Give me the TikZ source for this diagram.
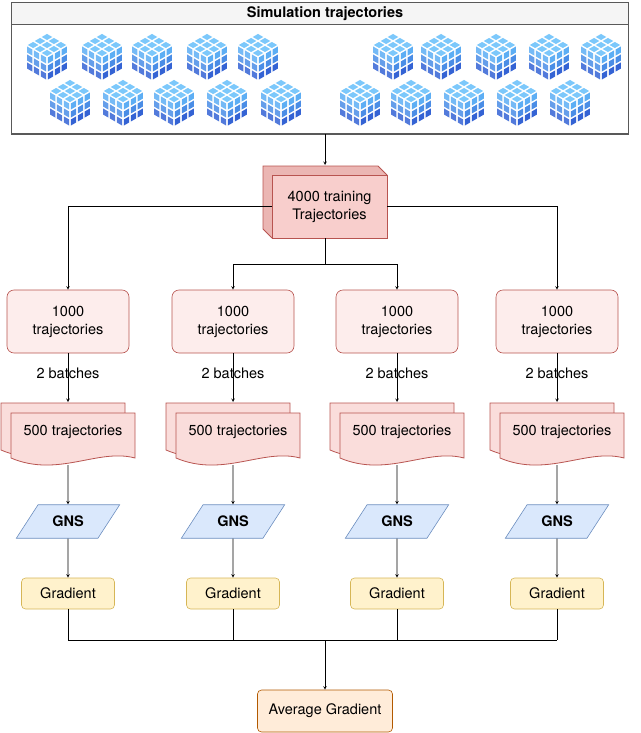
\documentclass[tikz,border=0pt]{standalone}
\usepackage{fontspec}
\setmainfont{TeX Gyre Heros}
\usetikzlibrary{shapes.geometric}
\definecolor{redfill}{HTML}{F8CECC}
\definecolor{redline}{HTML}{B85450}
\definecolor{palered}{HTML}{FDEDEC}
\definecolor{bluefill}{HTML}{DAE8FC}
\definecolor{blueline}{HTML}{6C8EBF}
\definecolor{yelfill}{HTML}{FFF2CC}
\definecolor{yelline}{HTML}{D6B656}
\definecolor{cubetop}{HTML}{7CC8FB}
\definecolor{cubeA}{HTML}{5DAEF4}
\definecolor{cubeB}{HTML}{4A8DE6}
\definecolor{cubeC}{HTML}{3463D4}
% one cell of a cube face: ox oy ux uy vx vy i j colour
\newcommand\cubecell[9]{%
  \fill[#9] ({#1+(#7+.12)*#3+(#8+.12)*#5},{#2+(#7+.12)*#4+(#8+.12)*#6})
    -- ({#1+(#7+.88)*#3+(#8+.12)*#5},{#2+(#7+.88)*#4+(#8+.12)*#6})
    -- ({#1+(#7+.88)*#3+(#8+.88)*#5},{#2+(#7+.88)*#4+(#8+.88)*#6})
    -- ({#1+(#7+.12)*#3+(#8+.88)*#5},{#2+(#7+.12)*#4+(#8+.88)*#6}) -- cycle;}
% a 3x3x3 cube centred at #1,#2
\newcommand\rubik[2]{%
  \foreach \i in {0,1,2}{\foreach \j/\c in {0/cubeA,1/cubeB,2/cubeC}{
    \cubecell{#1}{#2-24}{6.93}{4}{-6.93}{4}{\i}{\j}{cubetop}
    \cubecell{#1-20.8}{#2-12}{6.93}{4}{0}{8}{\i}{\j}{\c!85!white}
    \cubecell{#1}{#2}{6.93}{-4}{0}{8}{\i}{\j}{\c}
  }}}
\tikzset{
  txt/.style={font=\fontsize{14.5}{18}\selectfont, align=center},
  arr/.style={->, >=stealth},
  setbox/.style={txt, draw=redline, fill=palered, rounded corners=7pt, minimum width=122pt, minimum height=63pt},
  gns/.style={txt, font=\fontsize{14.5}{18}\selectfont\bfseries, draw=blueline, fill=bluefill, trapezium, trapezium left angle=57, trapezium right angle=123, minimum width=104pt, minimum height=31pt, inner xsep=0pt},
  grad/.style={txt, draw=yelline, fill=yelfill, rounded corners=4pt, minimum width=93pt, minimum height=31pt},
  doc/.style={draw=redline, fill=redfill!70!white, line width=0.8pt}
}
\begin{document}
\begin{tikzpicture}[x=1pt,y=-1pt, line width=0.6pt]
\useasboundingbox (0,0) rectangle (640,733);
% -- frame with cubes
\draw[gray!70!black, line width=1pt, fill=white] (11,3) rectangle (628,134);
\draw[gray!70!black, line width=1pt, fill=gray!8] (11,3) rectangle (628,25);
\node[txt, font=\fontsize{14.5}{18}\selectfont\bfseries] (sim) at (325,14) {Simulation trajectories};
\foreach \x in {47,102,152,207,258,393,441,496,549,601} {\rubik{\x}{57}}
\foreach \x in {70,123,174,227,281,360,411,464,517,570} {\rubik{\x}{103}}
\coordinate (simb) at (325,134);
% -- training set box
\draw[redline, fill=redfill!80!redline, line width=0.8pt] (263,166) -- (378,166) -- (387,175) -- (387,238) -- (272,238) -- (263,229) -- cycle;
\node[txt, draw=redline, fill=redfill, line width=0.8pt, minimum width=115pt, minimum height=63pt] (train) at (329.5,206.5) {4000 training\\Trajectories};
\draw[arr] (simb) -- (325,165);
% -- columns
\foreach \n/\x in {1/68,2/233,3/397,4/557} {
  \node[setbox] (set\n) at (\x,321.5) {1000\\trajectories};
  \draw[doc] (\x-67,403) -- (\x+57,403) -- (\x+57,450)
    .. controls (\x+20,440) and (\x-20,470) .. (\x-67,450) -- cycle;
  \draw[doc] (\x-57,413) -- (\x+67,413) -- (\x+67,458)
    .. controls (\x+30,448) and (\x-10,478) .. (\x-57,458) -- cycle;
  \node[txt] (batch\n) at (\x+5,432) {500 trajectories};
  \node[gns] (gns\n) at (\x,521.5) {GNS};
  \node[grad] (grad\n) at (\x,593.5) {Gradient};
  \draw[arr] (set\n) -- node[txt, fill=none, pos=.42] {2 batches} (\x,402);
  \draw[arr] (\x,465) -- (gns\n);
  \draw[arr] (gns\n) -- (grad\n);
  \draw (grad\n) -- (\x,640);
}
% -- split
\draw[arr] (train.west) -| (set1);
\draw[arr] (train.east) -| (set4);
\draw (train.south -| 325,0) -- (325,264);
\draw[arr] (325,264) -| (set2);
\draw[arr] (325,264) -| (set3);
% -- average
\node[grad, minimum width=135pt, minimum height=42pt, draw=orange!70!black, fill=orange!15] (avg) at (325,711) {Average Gradient};
\draw (68,640) -- (557,640);
\draw[arr] (325,640) -- (avg);
\end{tikzpicture}
\end{document}
